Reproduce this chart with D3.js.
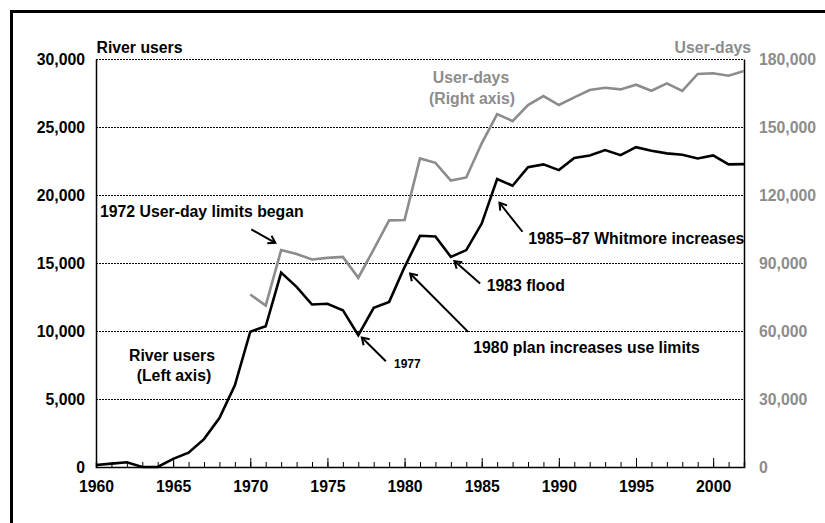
<!DOCTYPE html>
<html>
<head>
<meta charset="utf-8">
<script src="https://cdn.jsdelivr.net/npm/d3@7"></script>
<style>
  html, body { margin: 0; padding: 0; background: #fff; }
  svg { display: block; }
  text { font-family: Arial, "Liberation Sans", Helvetica, sans-serif; font-weight: bold; }
</style>
</head>
<body>
<svg id="chart" width="825" height="523"></svg>
<script>
// Grand Canyon river use, 1960-2002
const years = d3.range(1960, 2003);

// River users per year (left axis)
const riverUsers = [
  150, 250, 350, 0, 0, 600, 1050, 2050, 3600, 6000,
  9950, 10350, 14300, 13250, 11950, 12000, 11530, 9690, 11700, 12140,
  14700, 17000, 16950, 15450, 15950, 17900, 21170, 20680, 22050, 22250,
  21830, 22720, 22910, 23300, 22930, 23520, 23250, 23060, 22960, 22690,
  22910, 22250, 22270
];

// User-days per year (right axis), recorded from 1970 on
const userDayYears = d3.range(1970, 2003);
const userDays = [
  76100, 71200, 95700, 94000, 91550, 92270, 92700, 83500, 96000, 108800,
  109000, 136150, 134200, 126400, 127750, 142800, 155700, 152600, 159700, 163650,
  159700, 163100, 166300, 167300, 166600, 168650, 166000, 169250, 165900, 173400,
  173700, 172600, 174700
];

const leftTicks = [0, 5000, 10000, 15000, 20000, 25000, 30000];
const rightTicks = [0, 30000, 60000, 90000, 120000, 150000, 180000];
const yearTicks = [1960, 1965, 1970, 1975, 1980, 1985, 1990, 1995, 2000];

const svg = d3.select("#chart");
const W = 825, H = 523;
const plot = { left: 96, right: 744, top: 59, bottom: 467 };

const x = d3.scaleLinear().domain([1960, 2002]).range([plot.left, plot.right]);
const yL = d3.scaleLinear().domain([0, 30000]).range([plot.bottom, plot.top]);
const yR = d3.scaleLinear().domain([0, 180000]).range([plot.bottom, plot.top]);

const GRAY = "#8c8c8c";
const FS = "15.8px";

// outer frame (runs off the right and bottom edges)
svg.append("rect")
  .attr("x", 11.5).attr("y", 11.5)
  .attr("width", W).attr("height", H)
  .attr("fill", "none").attr("stroke", "#000").attr("stroke-width", 3);

// dotted gridlines
svg.append("g").selectAll("line")
  .data(leftTicks.filter(d => d > 0))
  .join("line")
  .attr("x1", plot.left).attr("x2", plot.right)
  .attr("y1", d => Math.round(yL(d)) + 0.5).attr("y2", d => Math.round(yL(d)) + 0.5)
  .attr("stroke", "#000").attr("stroke-width", 1)
  .attr("stroke-dasharray", "2,1");

// left axis
const gL = svg.append("g").attr("transform", `translate(${plot.left},0)`)
  .call(d3.axisLeft(yL).tickValues(leftTicks).tickSize(0).tickPadding(11).tickFormat(d3.format(",")));
gL.select(".domain").attr("stroke", "#000").attr("stroke-width", 1.5);
gL.selectAll("text").attr("font-size", FS).attr("fill", "#000").attr("font-family", null);

// right axis
const gR = svg.append("g").attr("transform", `translate(${plot.right},0)`)
  .call(d3.axisRight(yR).tickValues(rightTicks).tickSize(0).tickPadding(15).tickFormat(d3.format(",")));
gR.select(".domain").attr("stroke", "#000").attr("stroke-width", 1.5);
gR.selectAll("text").attr("font-size", FS).attr("fill", GRAY).attr("font-family", null);

// bottom axis: yearly minor ticks, labelled major ticks every five years
const gMinor = svg.append("g").attr("transform", `translate(0,${plot.bottom})`)
  .call(d3.axisBottom(x).tickValues(years).tickSize(-5).tickFormat(""));
gMinor.select(".domain").attr("stroke", "#000").attr("stroke-width", 1.5);
const gMajor = svg.append("g").attr("transform", `translate(0,${plot.bottom})`)
  .call(d3.axisBottom(x).tickValues(yearTicks).tickSize(-9).tickPadding(14).tickFormat(d3.format("d")));
gMajor.select(".domain").remove();
gMajor.selectAll("text").attr("font-size", FS).attr("fill", "#000").attr("font-family", null);

// series lines
const lineL = d3.line().x((d, i) => x(years[i])).y(d => yL(d));
const lineR = d3.line().x((d, i) => x(userDayYears[i])).y(d => yR(d));

svg.append("path").datum(userDays)
  .attr("d", lineR).attr("fill", "none")
  .attr("stroke", GRAY).attr("stroke-width", 2.6).attr("stroke-linejoin", "miter");

svg.append("path").datum(riverUsers)
  .attr("d", lineL).attr("fill", "none")
  .attr("stroke", "#000").attr("stroke-width", 2.6).attr("stroke-linejoin", "miter");

// plain labels
const labels = [
  { t: "River users", x: 96.5, y: 53, anchor: "start", fill: "#000" },
  { t: "User-days", x: 751, y: 53, anchor: "end", fill: GRAY },
  { t: "User-days", x: 471, y: 83, anchor: "middle", fill: GRAY },
  { t: "(Right axis)", x: 472, y: 104, anchor: "middle", fill: GRAY },
  { t: "River users", x: 172, y: 360.5, anchor: "middle", fill: "#000" },
  { t: "(Left axis)", x: 174, y: 381, anchor: "middle", fill: "#000" }
];
svg.append("g").selectAll("text").data(labels).join("text")
  .attr("x", d => d.x).attr("y", d => d.y)
  .attr("text-anchor", d => d.anchor)
  .attr("fill", d => d.fill)
  .attr("font-size", FS)
  .text(d => d.t);

// event annotations: arrow tip in data space, tail offset and label in pixels
const events = [
  { t: "1972 User-day limits began", year: 1971.62, v: 16480, dx: -24, dy: -13.5, lx: 100, ly: 216.5, fs: FS },
  { t: "1977", year: 1977.23, v: 9520, dx: 24, dy: 23.7, lx: 394, ly: 367.5, fs: "12px" },
  { t: "1980 plan increases use limits", year: 1980.36, v: 14230, dx: 58, dy: 58.4, lx: 473.3, ly: 353.3, fs: FS },
  { t: "1983 flood", year: 1983.23, v: 15140, dx: 25.7, dy: 22.3, lx: 486.7, ly: 290.5, fs: FS },
  { t: "1985\u201387 Whitmore increases", year: 1986.15, v: 19430, dx: 23, dy: 29, lx: 528.3, ly: 243.8, fs: FS }
];

const ann = svg.append("g");
events.forEach(e => {
  const tx = x(e.year), ty = yL(e.v);
  const sx = tx + e.dx, sy = ty + e.dy;
  const ang = Math.atan2(ty - sy, tx - sx);
  const L = 8, A = Math.PI / 5.5;
  ann.append("line")
    .attr("x1", sx).attr("y1", sy).attr("x2", tx).attr("y2", ty)
    .attr("stroke", "#000").attr("stroke-width", 2);
  ann.append("path")
    .attr("d", d3.line()([
      [tx - L * Math.cos(ang - A), ty - L * Math.sin(ang - A)],
      [tx, ty],
      [tx - L * Math.cos(ang + A), ty - L * Math.sin(ang + A)]
    ]))
    .attr("fill", "none").attr("stroke", "#000").attr("stroke-width", 2)
    .attr("stroke-linejoin", "miter");
  ann.append("text")
    .attr("x", e.lx).attr("y", e.ly)
    .attr("font-size", e.fs).attr("fill", "#000")
    .text(e.t);
});
</script>
</body>
</html>
